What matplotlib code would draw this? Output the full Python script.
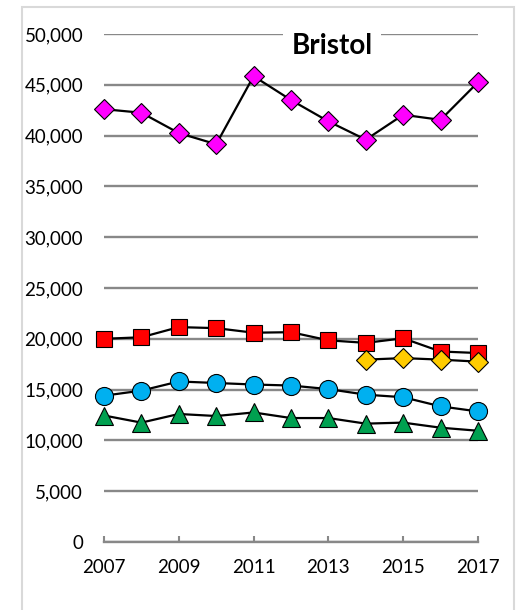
import matplotlib
matplotlib.use("Agg")
import matplotlib.pyplot as plt
from matplotlib.patches import Rectangle
from matplotlib.ticker import FuncFormatter

years = list(range(2007, 2018))
magenta_vals = [42600, 42250, 40250, 39150, 45850, 43500, 41400, 39600, 42050, 41550, 45250]
red_vals = [20000, 20150, 21150, 21050, 20600, 20650, 19850, 19600, 20050, 18750, 18600]
yellow_years = [2014, 2015, 2016, 2017]
yellow_vals = [17950, 18100, 17950, 17750]
blue_vals = [14400, 14900, 15800, 15650, 15500, 15400, 15050, 14500, 14250, 13350, 12850]
green_vals = [12450, 11750, 12600, 12400, 12750, 12200, 12200, 11650, 11750, 11250, 10950]
x_ticks = [2007, 2009, 2011, 2013, 2015, 2017]
y_ticks = list(range(0, 50001, 5000))
title = "Bristol"

plt.rcParams["font.family"] = ["Lato", "DejaVu Sans"]

fig = plt.figure(figsize=(5.18, 6.10), dpi=100)
fig.patches.append(Rectangle((22 / 518, -0.05), 492 / 518, 1.05 - 7 / 610,
                             transform=fig.transFigure, fill=False,
                             edgecolor="#d9d9d9", linewidth=1.5))

ax = fig.add_axes([104 / 518, 1 - 542 / 610, 374 / 518, 508 / 610])

line_kw = dict(color="black", linewidth=1.6, markeredgecolor="black",
               markeredgewidth=0.8, clip_on=False, zorder=3)
ax.plot(years, magenta_vals, marker="D", markersize=10, markerfacecolor="#ff00ff", **line_kw)
ax.plot(years, blue_vals, marker="o", markersize=13, markerfacecolor="#00b0f0", **line_kw)
ax.plot(years, green_vals, marker="^", markersize=13, markerfacecolor="#00a050", **line_kw)
ax.plot(years, red_vals, marker="s", markersize=11, markerfacecolor="#ff0000", **line_kw)
ax.plot(yellow_years, yellow_vals, marker="D", markersize=10, markerfacecolor="#ffcc00", **line_kw)

ax.set_xlim(2007, 2017)
ax.set_ylim(0, 50000)
ax.set_xticks(x_ticks)
ax.set_yticks(y_ticks)
ax.yaxis.set_major_formatter(FuncFormatter(lambda v, p: f"{int(v):,}"))

ax.grid(axis="y", color="#888888", linewidth=1.7, zorder=1)
ax.set_axisbelow(True)
for side in ["top", "right", "left"]:
    ax.spines[side].set_visible(False)
ax.spines["bottom"].set_color("#888888")
ax.spines["bottom"].set_linewidth(1.7)

ax.tick_params(axis="y", length=0, pad=15, labelsize=13.5)
ax.tick_params(axis="x", direction="in", length=4, width=1.5, color="#888888",
               pad=12, labelsize=13.5)

ax.text(2013.1, 48800, title, ha="center", va="center", fontsize=20,
        fontweight="bold", zorder=4,
        bbox=dict(facecolor="white", edgecolor="none", pad=6))

fig.savefig("out.png", dpi=100)
